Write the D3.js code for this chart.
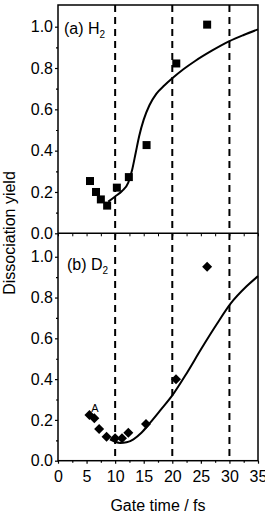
<!DOCTYPE html>
<html><head><meta charset="utf-8">
<script src="https://cdn.jsdelivr.net/npm/d3@7"></script>
<style>
html,body{margin:0;padding:0;background:#fff;}
text{font-family:Arial,"Liberation Sans",sans-serif;fill:#000;}
</style></head>
<body>
<svg id="c" width="265" height="515"></svg>
<script>
// ---- data ----
const h2Time  = [5.6, 6.65, 7.5, 8.6, 10.3, 12.4, 15.5, 20.7, 26.1];
const h2Yield = [0.253, 0.20, 0.164, 0.134, 0.221, 0.272, 0.427, 0.822, 1.01];
const h2FitTime  = [8.8, 10.0, 11.2, 12.3, 13.0, 13.6, 14.2, 15.0, 16.0, 17.2, 18.6, 20.0, 22.0, 24.0, 27.0, 30.0, 32.5, 35];
const h2FitYield = [0.153, 0.178, 0.205, 0.245, 0.31, 0.39, 0.47, 0.55, 0.62, 0.675, 0.715, 0.75, 0.795, 0.834, 0.885, 0.93, 0.96, 0.987];

const d2Time  = [5.5, 6.35, 7.2, 8.5, 10.0, 11.2, 12.3, 15.4, 20.65, 26.1];
const d2Yield = [0.224, 0.208, 0.155, 0.118, 0.11, 0.11, 0.137, 0.18, 0.399, 0.951];
const d2FitTime  = [9.1, 10.0, 10.9, 12.0, 13.2, 14.6, 16.1, 18.0, 20.0, 22.5, 25.0, 27.8, 30.2, 33.0, 35];
const d2FitYield = [0.105, 0.093, 0.087, 0.09, 0.105, 0.137, 0.185, 0.25, 0.32, 0.428, 0.545, 0.67, 0.77, 0.855, 0.905];

const gateLines = [10, 20, 30];
const xTicks = [0, 5, 10, 15, 20, 25, 30, 35];
const yTicks = [0, 0.2, 0.4, 0.6, 0.8, 1.0];

// ---- layout ----
const L = 58, R = 258, T = 5, M = 233.3, B = 460.7;
const svg = d3.select("#c");
const x = d3.scaleLinear().domain([0, 35]).range([L, R]);
const yTop = d3.scaleLinear().domain([0, 1.105]).range([M, T]);
const yBot = d3.scaleLinear().domain([0, 1.115]).range([B, M]);

// frame
svg.append("rect").attr("x", L).attr("y", T).attr("width", R - L).attr("height", B - T)
  .attr("fill", "none").attr("stroke", "#000").attr("stroke-width", 1.5);

// dashed gate lines
svg.append("g").selectAll("line").data(gateLines).join("line")
  .attr("x1", d => x(d)).attr("x2", d => x(d)).attr("y1", T).attr("y2", B)
  .attr("stroke", "#000").attr("stroke-width", 2).attr("stroke-dasharray", "7,5");

function yAxis(scale) {
  const g = svg.append("g").attr("transform", `translate(${L},0)`);
  g.call(d3.axisLeft(scale).tickValues(yTicks).tickSize(3).tickPadding(2).tickFormat(d3.format(".1f")));
  g.append("g").call(d3.axisLeft(scale).tickValues(d3.range(0.1, 1.05, 0.2)).tickSize(2).tickFormat(""));
  g.selectAll(".domain").remove();
  g.selectAll("text").attr("font-size", 16).attr("font-family", "Arial, 'Liberation Sans', sans-serif");
  g.selectAll("line").attr("stroke-width", 1.2);
}
yAxis(yTop);
yAxis(yBot);

// middle axis (between panels)
const gm = svg.append("g").attr("transform", `translate(0,${M})`);
gm.call(d3.axisBottom(x).tickValues(d3.range(0, 35.1, 2.5)).tickSize(3).tickFormat(""));
gm.select(".domain").remove();
svg.append("line").attr("x1", L).attr("x2", R).attr("y1", M).attr("y2", M).attr("stroke", "#000").attr("stroke-width", 1.5);

// bottom axis
const gb = svg.append("g").attr("transform", `translate(0,${B})`);
gb.call(d3.axisBottom(x).tickValues(xTicks).tickSize(3).tickPadding(7));
gb.append("g").call(d3.axisBottom(x).tickValues(d3.range(2.5, 35, 5)).tickSize(2).tickFormat(""));
gb.selectAll(".domain").remove();
gb.selectAll("text").attr("font-size", 16).attr("font-family", "Arial, 'Liberation Sans', sans-serif");
gb.selectAll("line").attr("stroke-width", 1.2);

// fit curves
const lineTop = d3.line().x((d, i) => x(h2FitTime[i])).y(d => yTop(d)).curve(d3.curveMonotoneX);
svg.append("path").attr("d", lineTop(h2FitYield)).attr("fill", "none").attr("stroke", "#000").attr("stroke-width", 2);
const lineBot = d3.line().x((d, i) => x(d2FitTime[i])).y(d => yBot(d)).curve(d3.curveMonotoneX);
svg.append("path").attr("d", lineBot(d2FitYield)).attr("fill", "none").attr("stroke", "#000").attr("stroke-width", 2);

// markers
svg.append("g").selectAll("rect").data(h2Yield).join("rect")
  .attr("x", (d, i) => x(h2Time[i]) - 4).attr("y", d => yTop(d) - 4)
  .attr("width", 8).attr("height", 8).attr("fill", "#000");
const diamond = d3.symbol().type(d3.symbolSquare).size(50);
svg.append("g").selectAll("path").data(d2Yield).join("path")
  .attr("d", diamond).attr("transform", (d, i) => `translate(${x(d2Time[i])},${yBot(d)}) rotate(45)`)
  .attr("fill", "#000");

// panel labels
const ta = svg.append("text").attr("x", 64).attr("y", 34).attr("font-size", 16);
ta.append("tspan").text("(a) H");
ta.append("tspan").attr("font-size", 10).attr("dy", 4).text("2");
const tb = svg.append("text").attr("x", 67).attr("y", 270).attr("font-size", 16);
tb.append("tspan").text("(b) D");
tb.append("tspan").attr("font-size", 10).attr("dy", 4).text("2");
svg.append("text").attr("x", 95).attr("y", 412).attr("font-size", 11).attr("text-anchor", "middle").text("A");

// axis titles
svg.append("text").attr("x", (L + R) / 2).attr("y", 511).attr("text-anchor", "middle").attr("font-size", 16).text("Gate time / fs");
svg.append("text").attr("transform", "translate(15,233) rotate(-90)").attr("text-anchor", "middle").attr("font-size", 16).text("Dissociation yield");
</script>
</body></html>
